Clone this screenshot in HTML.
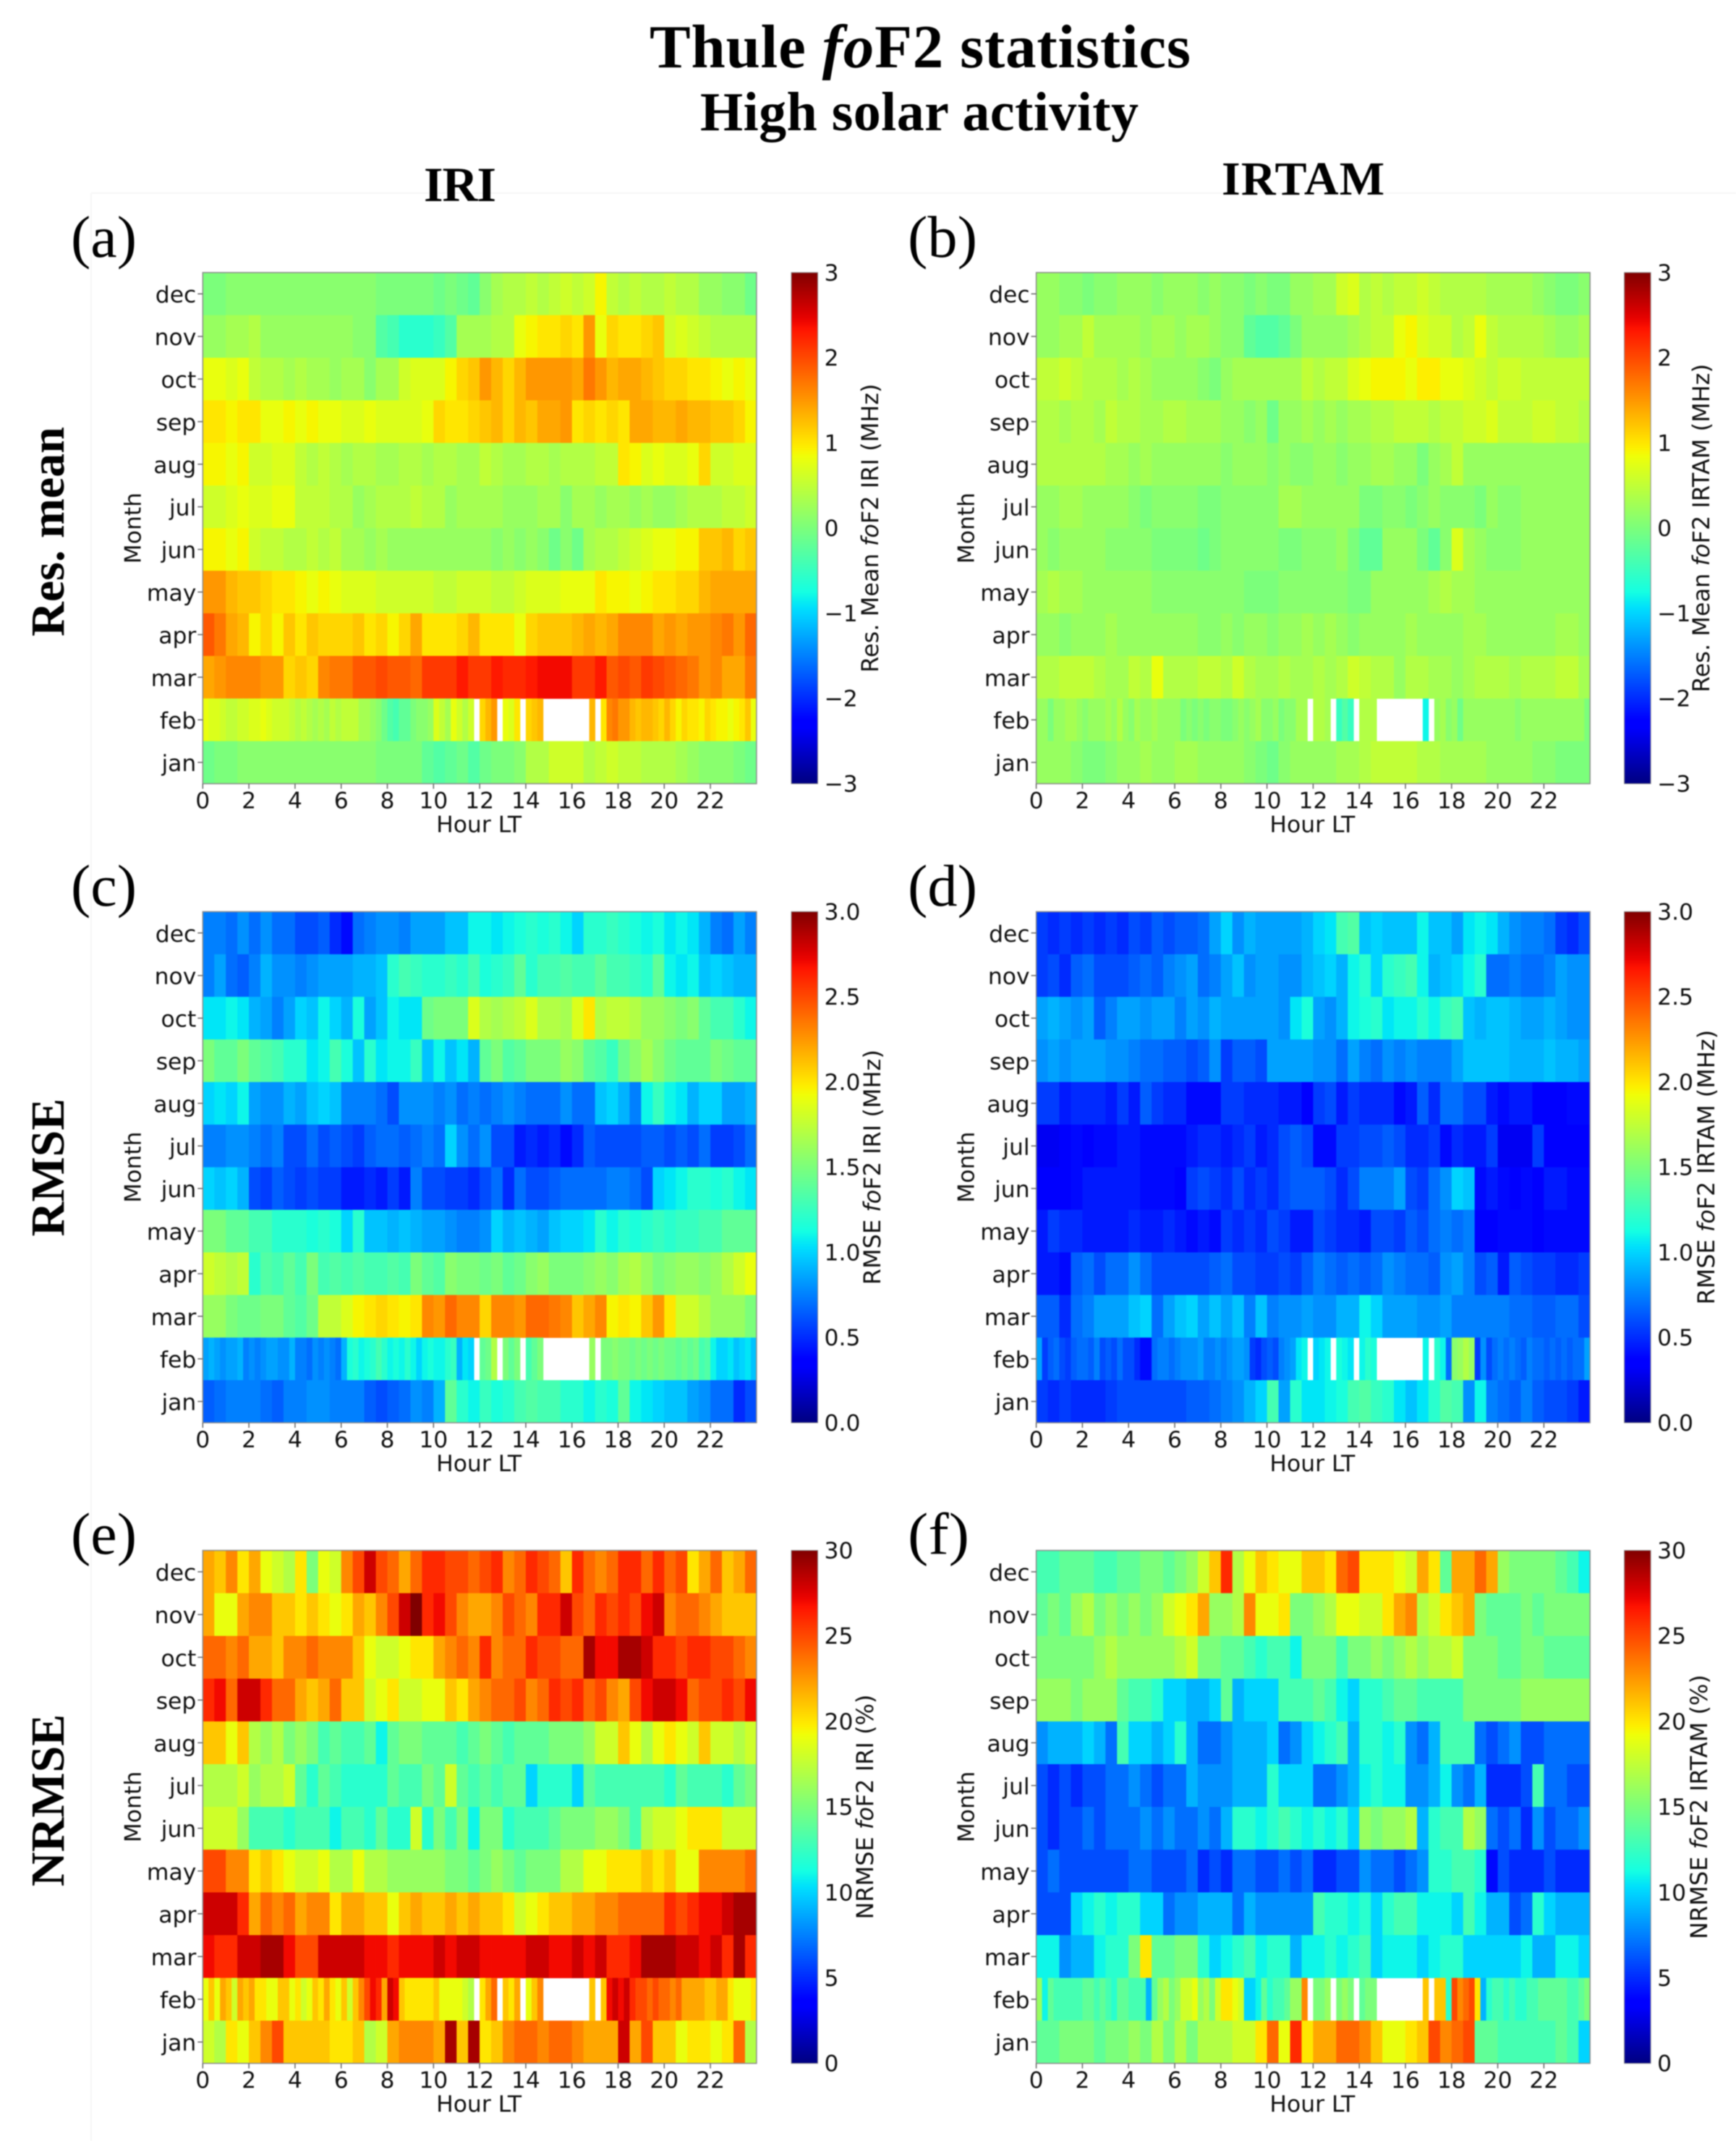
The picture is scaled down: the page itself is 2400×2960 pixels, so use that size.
<!DOCTYPE html>
<html lang="en">
<head>
<meta charset="utf-8">
<title>Thule foF2 statistics</title>
<style>
html,body{margin:0;padding:0;background:#fff}
svg{display:block;filter:blur(.7px)}
.ser{font-family:"Liberation Serif",serif;fill:#000}
.sans{font-family:"DejaVu Sans",sans-serif;fill:#111}
</style>
</head>
<body>
<svg id="figure" xmlns="http://www.w3.org/2000/svg" width="2400" height="2960" viewBox="0 0 2400 2960">
<rect width="2400" height="2960" fill="#fff"/>
<line x1="126" y1="267" x2="2400" y2="267" stroke="#f6f6f6" stroke-width="2"/>
<line x1="126" y1="267" x2="126" y2="2960" stroke="#f6f6f6" stroke-width="2"/>
<text class="ser" x="898" y="93" font-size="85" font-weight="bold" textLength="748">Thule <tspan font-style="italic">fo</tspan>F2 statistics</text>
<text class="ser" x="968" y="180" font-size="76" font-weight="bold" textLength="606">High solar activity</text>
<text class="ser" x="586" y="278" font-size="68" font-weight="bold" textLength="100">IRI</text>
<text class="ser" x="1689" y="269" font-size="66" font-weight="bold" textLength="225">IRTAM</text>
<text class="ser" transform="translate(88,735) rotate(-90)" text-anchor="middle" font-size="66" font-weight="bold">Res. mean</text>
<text class="ser" transform="translate(88,1614) rotate(-90)" text-anchor="middle" font-size="66" font-weight="bold">RMSE</text>
<text class="ser" transform="translate(88,2489) rotate(-90)" text-anchor="middle" font-size="66" font-weight="bold">NRMSE</text>
<text class="ser" x="98" y="355" font-size="82" textLength="91" lengthAdjust="spacingAndGlyphs">(a)</text>
<text class="ser" x="1255" y="355" font-size="82" textLength="96" lengthAdjust="spacingAndGlyphs">(b)</text>
<text class="ser" x="98" y="1252" font-size="82" textLength="91" lengthAdjust="spacingAndGlyphs">(c)</text>
<text class="ser" x="1255" y="1252" font-size="82" textLength="96" lengthAdjust="spacingAndGlyphs">(d)</text>
<text class="ser" x="98" y="2148" font-size="82" textLength="91" lengthAdjust="spacingAndGlyphs">(e)</text>
<text class="ser" x="1255" y="2148" font-size="82" textLength="85" lengthAdjust="spacingAndGlyphs">(f)</text>
<defs id="gradient-defs"></defs>
</svg>
<script>
const monthLabels = ['dec','nov','oct','sep','aug','jul','jun','may','apr','mar','feb','jan'];
const hourTicks = [0,2,4,6,8,10,12,14,16,18,20,22];
const meanTicks = [-3,-2,-1,0,1,2,3];
const rmseTicks = [0,0.5,1,1.5,2,2.5,3];
const nrmseTicks = [0,5,10,15,20,25,30];
const _ = null;

const resMeanIri = [
[0,0,.1,.1,.1,.1,.1,.1,.1,.1,.1,.1,.1,.1,.1,0,0,0,0,0,-.1,0,-.1,-.2,.1,.3,.4,.4,.5,.4,.5,.6,.5,.6,.9,.5,.4,.5,.4,.4,.5,.4,.4,.2,.2,.1,.1,-.1],
[.2,.2,.3,.3,.4,.2,.2,.2,.2,.2,.2,.2,.2,.1,.1,-.3,-.4,-.6,-.6,-.6,-.5,-.3,.3,.3,.3,.4,.4,.8,.9,1,1,1.1,1,1.5,.8,1.1,1,1,1.1,1.2,.6,.7,.6,.5,.4,.4,.4,.4],
[.8,.8,.7,.8,.5,.4,.4,.3,.4,.3,.3,.2,.3,.3,.1,.3,.3,.6,.7,.7,.7,.9,1.1,1.2,1.5,1.3,1.1,1.3,1.5,1.5,1.5,1.5,1.4,1.7,1.5,1.3,1.4,1.4,1.3,1.2,1.1,1.1,1,1,.9,.8,.9,.8],
[1,1,.9,1,1,.8,.8,.9,.8,.9,.8,.8,.7,.7,.8,.7,.7,.7,.7,.8,1.1,1,1,1.1,1.2,1.3,1.1,1.3,1.2,1.4,1.4,1.5,1,1.1,1,1.1,1,1.4,1.4,1.3,1.3,1.4,1.3,1.3,1.2,1.2,1.1,.9],
[.9,.9,.8,.9,.6,.6,.7,.7,.5,.4,.5,.4,.3,.4,.4,.3,.3,.4,.4,.3,.4,.4,.3,.3,.5,.4,.3,.3,.4,.4,.3,.4,.4,.4,.5,.5,1,.9,.7,.8,.7,.7,.8,1.1,.6,.6,.7,.7],
[.6,.6,.7,.8,.7,.7,.8,.8,.5,.5,.5,.4,.4,.2,.3,.4,.4,.4,.5,.4,.4,.2,.3,.3,.3,.3,.2,.2,.2,.3,.3,.1,.3,.3,.2,.3,.3,.2,.3,.2,.2,.3,.4,.4,.4,.5,.5,.6],
[.9,.9,.8,.9,.6,.5,.5,.4,.4,.5,.4,.5,.3,.3,.2,.3,.2,.2,.2,.2,.2,.2,.2,.2,.2,.1,.2,.1,.2,.1,-.1,.1,-.1,.3,.4,.4,.5,.6,.7,.8,.8,.9,.9,1.2,1.2,1.3,1.1,1.2],
[1.5,1.5,1.3,1.2,1.2,1.1,1,1,.9,.8,.9,.8,.7,.7,.7,.6,.6,.6,.6,.6,.5,.5,.6,.6,.6,.5,.5,.6,.7,.7,.7,.8,.8,.8,1,.9,.9,.8,.9,1,1,1.1,1.1,1.3,1.4,1.4,1.4,1.4],
[1.9,1.7,1.4,1.3,.9,1.1,.9,1.2,1,1.2,1.1,1.1,1.1,1.2,1,1.1,.9,1.1,1.4,1,1,1,1.1,1.3,1,1,1,.8,1.1,1.2,1.2,1.2,1.3,1.4,1.3,1.4,1.6,1.6,1.6,1.4,1.5,1.4,1.5,1.5,1.6,1.7,1.5,1.8],
[1.4,1.5,1.6,1.6,1.6,1.5,1.5,1.1,1.2,1.1,1.6,1.7,1.7,1.9,1.9,2,1.9,1.9,1.8,2.1,2.1,2.1,2.3,2.1,2.1,2.3,2.2,2.2,2.3,2.4,2.4,2.4,2.1,2.1,2.3,1.9,2,1.9,2.1,2,1.9,1.8,1.7,1.5,1.6,1.4,1.4,1.7],
[.8,.7,.7,.6,.5,.5,.6,.6,.7,.7,.8,.7,.6,.6,.6,.5,.4,.5,.4,.3,.4,.3,.5,.4,.5,.5,.5,.3,.3,.2,.1,-.1,-.3,-.4,-.2,-.2,0,.1,.1,.2,.7,.5,.3,.8,.6,.4,.6,_,1.1,1.3,1.5,_,.8,.7,1,_,1.1,1.2,1.3,_,_,_,_,_,_,_,_,1.3,_,1,1.6,1.7,1.5,1.5,1.3,1.2,1.3,1.3,1.2,1.1,1.3,1.1,.9,1.1,1,1,.9,1.1,1,.9,.9,.8,.9,1,1.2,.8],
[-.1,0,0,.1,.1,.1,.1,.1,.1,.1,.1,.1,.1,.1,.1,0,0,0,0,-.2,-.3,-.2,-.1,-.3,-.1,0,0,.1,.4,.4,.6,.6,.6,.4,.5,.6,.5,.5,.4,.4,.4,.3,.2,.1,.1,.1,0,-.1]
];

const resMeanIrtam = [
[.2,.2,.1,.1,0,.1,.1,.2,.2,.2,.1,.2,.2,.2,.1,.2,.1,.1,0,.1,0,0,.2,.2,.3,.3,.6,.7,.4,.5,.4,.5,.5,.6,.5,.4,.4,.4,.4,.3,.3,.3,.3,.2,.1,0,0,.1],
[.2,.2,.3,.3,.5,.3,.3,.3,.3,.2,.3,.3,.2,.3,.3,.2,.1,.1,-.2,-.3,-.3,-.2,0,.2,.2,.2,.2,.3,.4,.5,.5,.8,.9,.7,.6,.6,.4,.5,.8,.5,.4,.4,.4,.4,.3,.2,.2,.3],
[.5,.5,.6,.5,.4,.4,.4,.3,.4,.3,.2,.2,.2,.2,.1,0,.2,.3,.3,.3,.3,.3,.3,.5,.4,.5,.5,.7,.8,.9,.9,.9,.8,.95,.95,.8,.8,.7,.6,.5,.6,.6,.5,.5,.5,.5,.5,.5],
[.4,.4,.3,.4,.4,.3,.5,.4,.4,.3,.3,.4,.4,.3,.3,.3,.2,.2,.1,.2,-.1,.2,.2,.3,.2,.3,.2,.3,.3,.4,.4,.5,.5,.5,.4,.5,.5,.6,.6,.7,.5,.5,.5,.6,.6,.5,.5,.4],
[.4,.4,.4,.4,.4,.4,.3,.3,.2,.3,.2,.2,.2,.2,.2,.2,.1,.2,.2,.2,.1,.2,.1,.1,.2,.2,.1,.2,.2,.3,.3,.2,.2,0,.2,.3,.5,.2,.2,.2,.2,.2,.2,.2,.2,.2,.2,.2],
[.2,.2,.3,.3,.2,.2,.2,.2,.1,0,.1,.1,.1,.1,0,0,.1,.1,.1,.1,.1,.3,.3,.2,.2,.2,.2,.2,0,0,.1,.1,0,.1,.2,.1,.1,.1,0,.2,.1,.1,.2,.2,.2,.2,.2,.2],
[.2,.1,.2,.2,.2,.2,.1,.1,.1,.1,0,0,0,0,-.1,0,.1,.1,.1,.1,.1,0,0,.1,.1,.1,.2,0,-.2,-.2,.2,.2,.2,0,-.2,.1,.7,.3,.2,.1,.1,.1,.2,.2,.2,.2,.2,.2],
[.3,.4,.3,.3,.2,.2,.2,.2,.2,.2,.1,.1,.1,.1,.1,.1,.1,.1,0,0,0,.1,.1,.1,.1,.1,.1,0,0,.2,.2,.2,.2,.2,.3,.4,.3,.3,.2,.2,.2,.2,.2,.2,.2,.2,.2,.2],
[.2,.2,.1,.2,.2,.2,.3,.2,.2,.2,.2,.2,.2,.2,.1,.1,.2,.1,.2,.2,.1,.2,.2,.3,.2,.3,.2,.1,.2,.2,.2,.2,.3,.2,.2,.2,.2,.3,.3,.2,.2,.2,.2,.2,.2,.3,.3,.2],
[.4,.4,.5,.5,.5,.4,.3,.3,.5,.4,.8,.4,.4,.4,.5,.5,.4,.6,.4,.3,.3,.4,.3,.3,.4,.3,.4,.6,.5,.4,.4,.2,.4,.4,.3,.3,.2,.3,.4,.4,.4,.3,.4,.4,.4,.5,.5,.3],
[.2,.2,0,.2,.2,.3,.3,.2,.1,.2,.2,.2,.3,.2,.4,.2,.1,.3,.2,.2,.3,.2,.2,.2,.2,0,.1,0,.1,0,.1,.1,0,0,.1,.2,.1,.2,.3,.1,.1,.2,0,.1,.1,.3,.3,_,.4,.4,.3,_,-.5,-.3,-.5,_,.4,.4,.4,_,_,_,_,_,_,_,_,-.8,_,.2,.3,.1,.2,-.1,.2,.2,.2,.2,.2,.2,.2,.2,.2,.1,.2,.2,.2,.2,.2,.2,.2,.2,.2,.2,.2,0],
[.2,.2,.2,.1,0,0,.1,.2,.2,.3,.2,.2,.3,.3,.2,.2,.2,.2,.1,0,-.1,.1,.2,.2,.2,.2,.3,.3,.4,.5,.5,.5,.5,.4,.4,.3,.3,.3,.3,.2,.2,.2,.2,.1,.1,0,0,0]
];

const rmseIri = [
[.75,.75,.7,.8,.7,.8,.7,.7,.6,.6,.65,.5,.4,.7,.75,.8,.8,.75,.85,.85,.85,.95,.95,1.1,1.1,1.05,1.1,1.15,1.2,1.15,1.2,1.1,1,1.2,1.2,1.25,1.2,1.15,1.1,1.15,1.05,1.1,1.05,.9,.75,.7,.85,.75],
[.75,.85,.7,.65,.75,.9,.8,.8,.75,.8,.85,.85,.85,.9,.9,.95,1.2,1.3,1.25,1.2,1.2,1.25,1.2,1.3,1.15,1.2,1.25,1.4,1.2,1.3,1.3,1.35,1.3,1.3,1.4,1.3,1.3,1.25,1.2,1.4,1.1,1.05,1.1,.95,1,.95,.9,.9],
[1.05,1.05,1.1,1.05,.9,.85,.75,.85,1,.95,1.1,1,.9,1.15,.85,.95,1.1,1.05,1.05,1.45,1.5,1.5,1.5,1.85,1.7,1.65,1.7,1.75,1.85,1.7,1.7,1.65,1.85,2,1.7,1.75,1.75,1.7,1.6,1.6,1.55,1.5,1.55,1.4,1.3,1.3,1.2,1.1],
[1.5,1.4,1.4,1.5,1.4,1.35,1.3,1.2,1.2,1.05,1.1,1.3,1.15,.95,1.2,1.05,1.1,1.1,1.25,.95,1.1,.95,1.05,.9,1.4,1.5,1.35,1.4,1.5,1.5,1.5,1.6,1.55,1.4,1.35,1.25,1.45,1.55,1.65,1.55,1.45,1.4,1.4,1.4,1.5,1.45,1.4,1.4],
[1,1.05,1,1.1,.85,.8,.8,.9,.85,.95,1,.95,.75,.75,.75,.7,.6,.8,.8,.8,.75,.8,.7,.75,.7,.75,.8,.75,.7,.7,.7,.8,.7,.7,.95,1,.9,.75,1.1,1.25,1.1,1.05,.9,1,1,.85,.85,.9],
[.75,.75,.8,.8,.75,.7,.75,.6,.6,.7,.6,.65,.6,.55,.65,.7,.7,.65,.7,.75,.7,1,.8,.7,.8,.6,.6,.45,.5,.45,.5,.4,.5,.65,.6,.6,.6,.6,.65,.65,.6,.65,.6,.7,.55,.55,.6,.7],
[1,.95,1,.9,.6,.55,.65,.6,.55,.6,.55,.55,.45,.45,.5,.45,.55,.45,.75,.6,.6,.55,.55,.5,.6,.7,.5,.7,.6,.6,.65,.7,.7,.7,.7,.75,.75,.7,.6,1,1.05,1.1,1.2,1.2,1.15,1.2,1.1,1.05],
[1.5,1.5,1.4,1.4,1.3,1.3,1.2,1.2,1.2,1.15,1.2,1.15,1,1.2,.95,.95,.9,.95,.9,.85,.85,.8,.75,.75,.8,1,.9,.95,.9,.85,.95,1,1,1.05,1.2,1.1,1.2,1.15,1.2,1.25,1.2,1.25,1.25,1.3,1.3,1.4,1.4,1.4],
[1.8,1.75,1.7,1.75,1.2,1.35,1.3,1.4,1.3,1.5,1.3,1.35,1.3,1.35,1.3,1.3,1.35,1.3,1.5,1.4,1.35,1.55,1.5,1.5,1.45,1.5,1.4,1.45,1.55,1.6,1.5,1.5,1.5,1.55,1.6,1.55,1.65,1.7,1.6,1.5,1.55,1.6,1.6,1.55,1.6,1.7,1.8,1.9],
[1.6,1.6,1.5,1.45,1.45,1.5,1.5,1.4,1.35,1.45,1.75,1.75,1.85,1.95,2,2.05,2,1.95,2,2.3,2.25,2.4,2.3,2.3,2.05,2.3,2.3,2.25,2.4,2.4,2.35,2.3,2.1,2.2,2.3,1.95,2,1.95,2.1,2.25,2,1.8,1.8,1.7,1.6,1.6,1.6,1.5],
[.85,.9,.85,.8,.85,.85,.9,.75,.8,.75,.8,.85,.85,.8,.8,.9,.75,.75,.7,.8,.75,.8,.75,.7,.9,1.15,1.2,1.1,1.15,1.2,1.3,1.2,1.1,1.15,1.1,1.2,1.1,1,1.1,1.15,1.1,1.1,1.2,1.25,.9,1.05,1,_,1.4,1.45,1.7,_,1.5,1.4,1.5,_,1.3,1.4,1.5,_,_,_,_,_,_,_,_,1.6,_,1.5,1.5,1.55,1.5,1.5,1.45,1.5,1.45,1.5,1.45,1.5,1.45,1.45,1.4,1.45,1.4,1.45,1.3,1.35,1.1,1,1,1.05,.95,1,1.05,.95],
[.65,.7,.75,.75,.75,.7,.65,.75,.75,.8,.8,.75,.75,.75,.65,.6,.65,.7,.8,.75,.9,1.4,1.2,1.1,1.25,1.15,1.2,1.3,1.35,1.3,1.3,1.2,1.2,1.1,1.2,1.15,1.4,1.1,1.05,1,.95,.95,.85,.8,.7,.7,.5,.6]
];

const rmseIrtam = [
[.55,.5,.55,.5,.55,.5,.55,.5,.6,.55,.65,.6,.65,.65,.7,.85,1,.8,.9,.85,.85,.85,.85,.9,1,1.05,1.3,1.35,.95,1,.95,.95,.95,1.1,.95,.95,.85,1.05,1.1,1.05,.9,.8,.75,.75,.7,.55,.5,.6],
[.55,.6,.5,.65,.7,.6,.6,.6,.65,.7,.65,.75,.8,.85,.7,.75,.85,.95,.8,.85,.85,.8,.8,.9,.95,1,.9,1.1,1.2,1,1.2,1.25,1.3,1.1,.9,.95,1,1.1,1.2,.7,.7,.75,.7,.7,.75,.85,.8,.8],
[.85,.9,.85,.8,.85,.65,.75,.85,.85,.8,.85,.85,.75,.85,.8,.9,.85,.85,.85,.85,.85,.8,1.05,1.15,.85,.8,.9,1.1,1.15,1.2,1.05,1.1,1.1,1.2,1.1,1.25,1.3,.95,.9,.95,.95,.9,.85,.85,.9,.85,.8,.8],
[.8,.85,.8,.85,.85,.85,.8,.8,.75,.7,.7,.65,.65,.6,.65,.8,.55,.65,.65,.6,.85,.85,.85,.85,.8,.8,.7,.85,.75,.7,.8,.75,.8,.75,.75,.75,.85,.95,.95,.95,.95,.9,.9,.9,.95,.9,.9,.85],
[.55,.55,.45,.5,.5,.5,.45,.55,.45,.65,.55,.5,.5,.4,.4,.4,.55,.55,.5,.5,.5,.45,.45,.35,.55,.6,.45,.55,.5,.5,.5,.4,.45,.65,.5,.7,.7,.6,.6,.45,.4,.45,.45,.35,.35,.35,.4,.4],
[.3,.3,.35,.4,.35,.4,.4,.45,.45,.4,.4,.4,.4,.45,.5,.5,.45,.5,.55,.45,.5,.6,.65,.6,.4,.4,.55,.55,.6,.6,.65,.6,.5,.5,.55,.4,.5,.45,.45,.55,.3,.3,.3,.55,.35,.35,.35,.35],
[.35,.35,.35,.4,.45,.45,.45,.45,.45,.4,.4,.4,.35,.55,.6,.55,.5,.6,.5,.55,.5,.6,.65,.65,.65,.6,.5,.6,.75,.75,.75,.85,.6,.55,.7,.8,1,.95,.4,.45,.4,.35,.4,.35,.45,.45,.4,.4],
[.45,.55,.5,.5,.45,.45,.45,.45,.5,.45,.45,.5,.45,.4,.45,.4,.55,.5,.55,.5,.6,.55,.45,.45,.6,.55,.5,.5,.45,.6,.6,.55,.65,.6,.7,.75,.7,.75,.35,.35,.4,.4,.4,.35,.4,.4,.4,.4],
[.45,.45,.4,.65,.7,.6,.7,.7,.8,.7,.6,.6,.6,.6,.6,.65,.7,.6,.6,.55,.55,.6,.55,.65,.75,.7,.65,.7,.65,.7,.8,.75,.7,.7,.65,.8,.85,.75,.6,.65,.45,.65,.6,.55,.55,.5,.5,.55],
[.65,.65,.5,.7,.75,.85,.85,.85,.95,1,.7,.85,.95,1,.85,.95,.85,.95,.75,.95,.75,.8,.8,.85,.8,.8,.9,.9,1.1,1,.85,.85,.85,.8,.8,.85,.75,.75,.75,.75,.75,.7,.7,.65,.65,.7,.7,.6],
[.85,.55,.65,.7,.6,.55,.65,.7,.7,.65,.75,.6,.65,.6,.7,.6,.6,.5,.4,.4,.7,.75,.75,.7,.75,.8,.8,.8,.85,.75,.75,.8,.75,.8,.85,.85,.8,.55,.5,.6,.65,.6,.75,.8,.85,1.05,1.1,_,1,1.05,1.1,_,1.15,1.1,1.05,_,1.1,1.2,1.15,_,_,_,_,_,_,_,_,1.1,_,1.2,1.1,.7,1.55,1.6,1.7,1.6,.55,.8,.6,.7,.75,.7,.75,.7,.65,.75,.7,.7,.65,.7,.65,.7,.65,.7,.7,.85],
[.55,.5,.55,.5,.5,.5,.55,.6,.6,.6,.6,.6,.6,.65,.65,.7,.75,.8,.9,1,1.3,.85,1.2,1.05,1.05,1.1,1.15,1.3,1.35,1.25,1.2,1.05,.95,1.05,1.2,1.35,1.3,.8,1.1,.75,.7,.65,.75,.65,.6,.6,.55,.45]
];

const nrmseIri = [
[22,21,23,20,22,19,18,17,20,15,19,18,23,25,28,25,24,22,24,26,26,25,25,24,25,26,23,24,26,25,24,21,26,24,23,24,26,26,24,26,24,25,20,22,24,21,22,24],
[22,19,19,22,23,23,21,21,20,21,20,19,20,22,21,23,25,28,30,26,27,25,23,22,22,23,25,24,23,26,26,28,25,24,26,25,26,25,27,28,23,24,24,23,22,21,21,21],
[24,24,23,24,22,22,21,23,23,24,23,23,23,21,19,18,18,19,20,20,22,23,24,23,26,23,24,24,26,25,25,24,24,29,27,27,29,29,28,26,26,25,26,26,25,25,24,23],
[26,27,24,28,28,26,24,24,22,21,22,24,21,21,18,19,20,18,18,19,19,21,20,22,23,24,24,25,23,24,26,25,26,24,25,23,22,25,27,28,28,27,24,25,25,26,25,27],
[21,21,19,21,17,16,17,15,16,15,13,14,13,13,14,11,14,15,15,14,14,14,13,14,15,14,13,14,14,14,15,15,15,16,18,18,21,19,17,19,20,19,18,21,18,18,17,18],
[17,17,17,18,16,17,17,18,14,12,14,13,12,12,12,12,14,13,13,15,14,18,14,13,14,13,14,14,10,12,12,12,10,14,13,13,13,13,13,13,12,14,13,13,13,12,14,15],
[18,18,18,16,13,13,13,12,13,13,13,11,13,13,12,14,12,12,18,12,15,13,15,11,15,15,12,13,13,13,14,15,15,15,16,16,15,13,17,18,18,19,20,20,20,18,18,18],
[25,25,23,23,20,21,20,19,18,18,19,17,17,19,17,17,16,16,16,16,16,15,15,14,15,16,15,14,15,15,15,17,17,19,19,20,20,20,21,20,21,19,19,23,23,23,23,24],
[28,28,28,26,22,24,23,24,22,23,23,20,22,22,21,21,19,21,22,21,21,22,21,22,21,21,20,18,19,20,21,21,22,22,23,23,24,24,24,24,26,25,26,27,27,28,29,29],
[27,26,26,28,28,29,29,27,25,25,28,28,28,28,27,27,26,27,27,27,28,27,28,28,27,27,27,27,28,28,27,27,28,27,28,26,26,27,29,29,29,28,28,27,28,26,29,26],
[19,21,19,22,21,18,22,21,22,20,20,19,19,21,21,19,20,18,19,21,20,22,20,19,21,18,21,23,25,27,26,22,28,27,21,20,20,20,20,20,21,19,19,19,19,18,17,_,20,22,24,_,21,20,22,_,19,21,23,_,_,_,_,_,_,_,_,21,_,21,27,28,27,28,26,25,25,24,25,24,24,23,24,22,22,22,22,21,21,22,22,20,19,19,19,20],
[18,17,20,19,21,23,25,21,21,21,21,20,20,21,17,18,22,23,23,23,22,29,21,29,20,21,23,24,24,23,24,24,23,22,22,22,28,22,25,21,21,19,20,20,19,20,24,17]
];

const nrmseIrtam = [
[13,13,14,14,14,13,13,14,14,15,15,14,15,16,18,21,26,17,19,21,20,19,19,21,21,20,24,25,20,20,20,19,18,22,20,14,22,22,24,22,16,15,15,15,15,14,13,11],
[14,15,14,16,17,15,16,15,16,15,16,18,19,20,22,16,16,17,23,19,19,20,15,15,16,17,19,19,18,18,20,22,23,17,18,20,21,22,15,14,14,14,15,14,15,15,15,15],
[15,15,15,15,15,16,17,16,16,16,16,16,17,18,15,15,14,14,13,12,13,13,11,15,15,15,13,15,15,16,15,16,17,16,17,17,18,15,15,15,14,14,15,15,14,14,14,14],
[16,16,16,15,16,16,16,14,13,13,12,10,10,9,9,10,14,9,10,10,10,13,13,13,14,13,11,10,12,12,13,14,14,13,13,13,13,15,15,15,15,15,16,16,16,16,16,16],
[8,9,9,9,10,9,7,13,10,10,9,10,12,9,7,7,8,9,9,9,10,7,8,10,11,12,13,9,12,12,11,12,8,7,9,13,13,13,7,6,7,8,6,6,7,7,7,7],
[6,5,6,5,6,6,7,7,8,7,6,7,7,9,8,8,8,9,9,9,12,10,10,10,7,7,8,9,11,12,11,11,8,8,9,11,8,7,9,5,5,5,6,13,7,7,6,6],
[6,5,6,6,7,6,7,7,7,8,7,8,7,7,8,7,9,12,12,11,12,13,12,11,12,11,12,10,16,15,16,16,17,9,12,13,13,17,16,7,6,7,5,8,6,7,7,8],
[6,7,6,6,6,6,6,6,7,7,6,6,6,7,5,6,5,7,7,6,6,7,6,7,5,5,6,6,8,7,7,6,7,8,12,12,13,13,12,4,6,5,5,5,6,5,5,5],
[6,6,6,10,11,12,11,12,12,10,10,7,8,8,9,9,9,7,9,8,8,8,8,8,13,12,12,11,12,10,12,13,13,11,11,11,10,13,11,9,9,6,7,12,10,9,9,9],
[11,11,8,9,9,11,12,12,15,20,14,14,15,15,12,10,11,12,13,11,12,12,9,11,11,12,11,12,13,10,11,11,11,10,11,12,12,10,10,10,10,10,11,9,9,11,11,10],
[16,11,14,13,13,13,13,13,14,14,13,14,13,12,14,14,13,13,13,9,14,16,17,15,16,18,18,19,16,17,15,18,20,20,19,18,10,10,11,14,12,13,13,14,16,16,23,_,15,15,16,_,15,16,15,_,14,15,15,_,_,_,_,_,_,_,_,21,_,21,21,12,25,23,24,25,20,9,12,13,13,12,13,12,12,13,13,14,14,14,14,14,13,13,14,15],
[14,14,15,15,15,14,15,15,16,15,17,15,17,15,17,17,17,18,18,20,24,19,26,20,22,22,24,24,23,21,19,19,20,21,25,23,24,25,14,14,13,13,13,13,13,14,13,10]
];

const SVGNS = 'http://www.w3.org/2000/svg';
const svg = document.getElementById('figure');
const defs = document.getElementById('gradient-defs');
const HOURS = 24;

const jetR = [[0,0],[.35,0],[.66,1],[.89,1],[1,.5]];
const jetG = [[0,0],[.125,0],[.375,1],[.64,1],[.91,0],[1,0]];
const jetB = [[0,.5],[.11,1],[.34,1],[.65,0],[1,0]];
function segment(table, t) {
  for (let i = 1; i < table.length; i++) {
    if (t <= table[i][0]) {
      const a = table[i - 1], b = table[i];
      return a[1] + (b[1] - a[1]) * (t - a[0]) / (b[0] - a[0]);
    }
  }
  return table[table.length - 1][1];
}
function jet(t) {
  const c = Math.max(0, Math.min(1, t));
  return 'rgb(' + Math.round(segment(jetR, c) * 255) + ',' + Math.round(segment(jetG, c) * 255) + ',' + Math.round(segment(jetB, c) * 255) + ')';
}

function make(tag, attrs, parent) {
  const el = document.createElementNS(SVGNS, tag);
  for (const k in attrs) el.setAttribute(k, attrs[k]);
  parent.appendChild(el);
  return el;
}
function addLabel(parent, name, content, attrs) {
  const el = make('text', attrs, parent);
  el.setAttribute('class', 'sans');
  
  
  el.textContent = content;
  return el;
}

const panels = [
  {id:'a', rows:resMeanIri,   vmin:-3, vmax:3,  ticks:meanTicks,  dec:0, left:280.3,  top:376.8,  bottom:1083.5, cbLeft:1094,   labelX:1215, pre:'Res. Mean ', post:'F2 IRI (MHz)'},
  {id:'b', rows:resMeanIrtam, vmin:-3, vmax:3,  ticks:meanTicks,  dec:0, left:1432.6, top:376.8,  bottom:1083.5, cbLeft:2245.6, labelX:2364, pre:'Res. Mean ', post:'F2 IRTAM (MHz)'},
  {id:'c', rows:rmseIri,      vmin:0,  vmax:3,  ticks:rmseTicks,  dec:1, left:280.3,  top:1260.4, bottom:1967,   cbLeft:1094,   labelX:1218, pre:'RMSE ',      post:'F2 IRI (MHz)'},
  {id:'d', rows:rmseIrtam,    vmin:0,  vmax:3,  ticks:rmseTicks,  dec:1, left:1432.6, top:1260.4, bottom:1967,   cbLeft:2245.6, labelX:2371, pre:'RMSE ',      post:'F2 IRTAM (MHz)'},
  {id:'e', rows:nrmseIri,     vmin:0,  vmax:30, ticks:nrmseTicks, dec:0, left:280.3,  top:2143.5, bottom:2852.7, cbLeft:1094,   labelX:1208, pre:'NRMSE ',     post:'F2 IRI (%)'},
  {id:'f', rows:nrmseIrtam,   vmin:0,  vmax:30, ticks:nrmseTicks, dec:0, left:1432.6, top:2143.5, bottom:2852.7, cbLeft:2245.6, labelX:2361, pre:'NRMSE ',     post:'F2 IRTAM (%)'}
];
const AXIS_WIDTH = 765.6;
const CBAR_WIDTH = 36.5;
const FONT = 31.4;
const CB_TITLE_FONT = 32;

panels.forEach(function (p) {
  const group = make('g', {}, svg);
  
  

  const xScale = function (h) { return p.left + h / HOURS * AXIS_WIDTH; };
  const yScale = function (r) { return p.top + r / monthLabels.length * (p.bottom - p.top); };
  const unit = function (v) { return (v - p.vmin) / (p.vmax - p.vmin); };
  const cbScale = function (v) { return p.bottom - unit(v) * (p.bottom - p.top); };

  p.rows.forEach(function (row, r) {
    row.forEach(function (v, i) {
      if (v === null) return;
      const x0 = xScale(i * HOURS / row.length), x1 = xScale((i + 1) * HOURS / row.length);
      const cell = make('rect', {x:x0, y:yScale(r), width:x1 - x0 + .4, height:yScale(r + 1) - yScale(r) + .4, fill:jet(unit(v))}, group);
      
      
    });
  });

  const frame = make('rect', {x:p.left, y:p.top, width:AXIS_WIDTH, height:p.bottom - p.top, fill:'none', stroke:'#8c8c8c', 'stroke-width':1.5}, group);
  
  

  monthLabels.forEach(function (m, r) {
    const yc = (yScale(r) + yScale(r + 1)) / 2;
    const t = make('line', {x1:p.left - 7, x2:p.left, y1:yc, y2:yc, stroke:'#666', 'stroke-width':1.5}, group);
    
    
    addLabel(group, 'y-tick-label', m, {x:p.left - 9, y:yc + 12, 'text-anchor':'end', 'font-size':FONT});
  });

  hourTicks.forEach(function (h) {
    const xc = xScale(h);
    const t = make('line', {x1:xc, x2:xc, y1:p.bottom, y2:p.bottom + 7, stroke:'#666', 'stroke-width':1.5}, group);
    
    
    addLabel(group, 'x-tick-label', String(h), {x:xc, y:p.bottom + 34, 'text-anchor':'middle', 'font-size':FONT});
  });

  addLabel(group, 'x-axis-title', 'Hour LT', {x:p.left + AXIS_WIDTH / 2 - 1, y:p.bottom + 67, 'text-anchor':'middle', 'font-size':FONT});
  const midY = (p.top + p.bottom) / 2;
  addLabel(group, 'y-axis-title', 'Month', {transform:'translate(' + (p.left - 86) + ',' + midY + ') rotate(-90)', 'text-anchor':'middle', 'font-size':FONT});

  const gradient = make('linearGradient', {id:'jet-' + p.id, x1:0, y1:1, x2:0, y2:0}, defs);
  for (let s = 0; s <= 64; s++) {
    make('stop', {offset:s / 64, 'stop-color':jet(s / 64)}, gradient);
  }
  const bar = make('rect', {x:p.cbLeft, y:p.top, width:CBAR_WIDTH, height:p.bottom - p.top, fill:'url(#jet-' + p.id + ')', stroke:'#8c8c8c', 'stroke-width':1}, group);
  
  

  p.ticks.forEach(function (v) {
    const yv = cbScale(v);
    const txt = (v < 0 ? '\u2212' : '') + Math.abs(v).toFixed(p.dec);
    addLabel(group, 'colorbar-tick-label', txt, {x:p.cbLeft + CBAR_WIDTH + 9, y:yv + 11, 'font-size':FONT});
  });

  const cbTitle = addLabel(group, 'colorbar-title', '', {transform:'translate(' + (p.labelX - 1) + ',' + midY + ') rotate(-90)', 'text-anchor':'middle', 'font-size':CB_TITLE_FONT});
  const preSpan = make('tspan', {}, cbTitle);
  preSpan.textContent = p.pre;
  const itSpan = make('tspan', {'font-style':'italic'}, cbTitle);
  itSpan.textContent = 'fo';
  const postSpan = make('tspan', {}, cbTitle);
  postSpan.textContent = p.post;
});
</script>
</body>
</html>
